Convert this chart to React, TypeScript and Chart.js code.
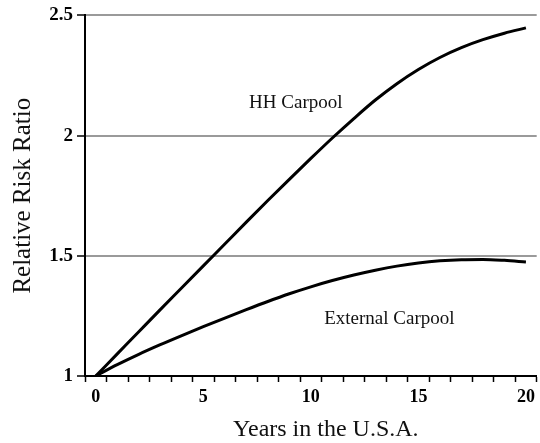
import React, { useEffect, useRef } from "react";
import { Chart, registerables } from "chart.js";

Chart.register(...registerables);

const years = [0, 1, 2, 3, 4, 5, 6, 7, 8, 9, 10, 11, 12, 13, 14, 15, 16, 17, 18, 19, 20];
const hhCarpool = [1.0, 1.092, 1.184, 1.276, 1.367, 1.458, 1.549, 1.64, 1.73, 1.818, 1.905, 1.99, 2.071, 2.148, 2.216, 2.275, 2.325, 2.366, 2.399, 2.426, 2.448];
const externalCarpool = [1.0, 1.047, 1.09, 1.13, 1.168, 1.205, 1.241, 1.276, 1.31, 1.342, 1.371, 1.397, 1.42, 1.44, 1.457, 1.47, 1.479, 1.484, 1.485, 1.481, 1.474];
const shownYears = [0, 5, 10, 15, 20];
const yMin = 1;
const yMax = 2.5;
const yStep = 0.5;
const curveLabels = [
  { text: "HH Carpool", x: 9.3, y: 2.135 },
  { text: "External Carpool", x: 13.65, y: 1.236 },
];
const xTitle = "Years in the U.S.A.";
const yTitle = "Relative Risk Ratio";

const SERIF = "'Liberation Serif', 'Times New Roman', serif";

const textPlugin = {
  id: "curveText",
  afterDraw(chart: any) {
    const { ctx, scales, chartArea } = chart;
    const xs = scales.x;
    const ys = scales.y;
    ctx.save();
    ctx.fillStyle = "#111";
    ctx.textAlign = "center";
    ctx.textBaseline = "middle";
    ctx.font = `19px ${SERIF}`;
    for (const l of curveLabels) {
      ctx.fillText(l.text, xs.getPixelForValue(l.x), ys.getPixelForValue(l.y));
    }
    ctx.font = `24px ${SERIF}`;
    ctx.textBaseline = "alphabetic";
    ctx.fillText(xTitle, (chartArea.left + chartArea.right) / 2 + 15, 436);
    ctx.restore();
  },
};

export default function App() {
  const ref = useRef<HTMLCanvasElement | null>(null);
  useEffect(() => {
    if (!ref.current) return;
    const chart = new Chart(ref.current, {
      type: "line",
      data: {
        labels: years.map(String),
        datasets: [
          {
            label: "HH Carpool",
            data: hhCarpool,
            borderColor: "#000",
            borderWidth: 3,
            pointRadius: 0,
            cubicInterpolationMode: "monotone",
            fill: false,
          },
          {
            label: "External Carpool",
            data: externalCarpool,
            borderColor: "#000",
            borderWidth: 3,
            pointRadius: 0,
            cubicInterpolationMode: "monotone",
            fill: false,
          },
        ],
      },
      options: {
        animation: false,
        responsive: false,
        maintainAspectRatio: false,
        layout: { padding: { top: 14, right: 3, left: 0, bottom: 0 } },
        plugins: {
          legend: { display: false },
          tooltip: { enabled: false },
        },
        scales: {
          x: {
            type: "category",
            offset: true,
            afterFit: (s: any) => {
              s.height = 67;
            },
            grid: {
              offset: true,
              drawOnChartArea: false,
              drawTicks: true,
              tickLength: 6,
              tickColor: "#000",
              tickWidth: 1.5,
            },
            border: { display: true, color: "#000", width: 2 },
            ticks: {
              autoSkip: false,
              maxRotation: 0,
              padding: 5,
              color: "#000",
              font: { family: SERIF, size: 18, weight: "bold" },
              callback: (_v: any, i: number) =>
                shownYears.includes(years[i]) ? String(years[i]) : "",
            },
          },
          y: {
            type: "linear",
            min: yMin,
            max: yMax,
            afterFit: (s: any) => {
              s.width = 85;
            },
            grid: {
              color: "#9a9a9a",
              lineWidth: 2,
              drawTicks: true,
              tickLength: 8,
              tickColor: "#000",
              tickWidth: 1.5,
            },
            border: { display: true, color: "#000", width: 2 },
            ticks: {
              stepSize: yStep,
              padding: 4,
              color: "#000",
              font: { family: SERIF, size: 19, weight: "bold" },
              callback: (v: any) => String(v),
            },
            title: {
              display: true,
              text: yTitle,
              color: "#111",
              font: { family: SERIF, size: 25 },
              padding: { top: 8, bottom: 0 },
            },
          },
        },
      },
      plugins: [textPlugin],
    } as any);
    return () => chart.destroy();
  }, []);
  return (
    <div style={{ position: "fixed", left: 0, top: 0, width: 540, height: 443, background: "#fff" }}>
      <canvas ref={ref} width={540} height={443} style={{ width: 540, height: 443 }} />
    </div>
  );
}
